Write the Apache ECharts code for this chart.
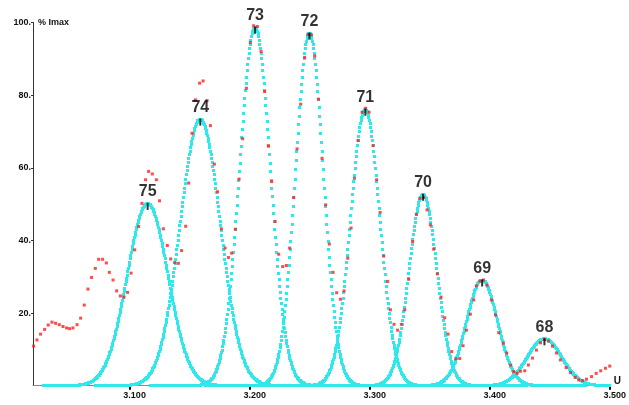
<!DOCTYPE html>
<html lang="en">
  <head>
    <meta charset="UTF-8" />
    <title>Peaks</title>
    <style>
      html, body { margin: 0; padding: 0; background: #fff; }
      #main { width: 629px; height: 405px; }
    </style>
  </head>
  <body>
    <script src="https://cdn.jsdelivr.net/npm/echarts@6.0.0/dist/echarts.min.js"></script>
    <div id="main"></div>
    <script>
      // axis ticks
      const xTicks = [3.1, 3.2, 3.3, 3.4, 3.5]
      const yTicks = [20, 40, 60, 80, 100]

      // fitted peaks (charge state, centre, height in % Imax, sigma in U)
      const charges = ['75', '74', '73', '72', '71', '70', '69', '68']
      const peakCenters = [3.1150, 3.1589, 3.2045, 3.2498, 3.2964, 3.3445, 3.3937, 3.4456]
      const peakHeights = [50.2, 73.4, 98.7, 97.1, 76.1, 52.7, 29.1, 12.9]
      const peakSigmas = [0.0170, 0.0168, 0.0128, 0.0116, 0.0122, 0.0116, 0.0130, 0.0145]

      // measured points
      const measuredU = [
        3.0200, 3.0228, 3.0258, 3.0292, 3.0322, 3.0353, 3.0383, 3.0414, 3.0445, 3.0475,
        3.0500, 3.0528, 3.0562, 3.0592, 3.0622, 3.0653, 3.0683, 3.0714, 3.0742, 3.0775,
        3.0806, 3.0831, 3.0862, 3.0892, 3.0923, 3.0953, 3.0983, 3.1012, 3.1042, 3.1075,
        3.1103, 3.1133, 3.1158, 3.1189, 3.1223, 3.1249, 3.1281, 3.1314, 3.1342, 3.1375,
        3.1406, 3.1433, 3.1467, 3.1492, 3.1520, 3.1548, 3.1583, 3.1612, 3.1645, 3.1673,
        3.1706, 3.1733, 3.1764, 3.1795, 3.1823, 3.1850, 3.1881, 3.1912, 3.1942, 3.1973,
        3.2006, 3.2033, 3.2064, 3.2095, 3.2125, 3.2156, 3.2183, 3.2212, 3.2242, 3.2275,
        3.2306, 3.2333, 3.2367, 3.2395, 3.2425, 3.2458, 3.2486, 3.2514, 3.2542, 3.2573,
        3.2603, 3.2633, 3.2664, 3.2695, 3.2725, 3.2756, 3.2787, 3.2817, 3.2845, 3.2873,
        3.2903, 3.2937, 3.2966, 3.2995, 3.3028, 3.3058, 3.3087, 3.3117, 3.3150, 3.3173,
        3.3203, 3.3233, 3.3264, 3.3292, 3.3325, 3.3358, 3.3389, 3.3417, 3.3450, 3.3478,
        3.3506, 3.3533, 3.3564, 3.3595, 3.3625, 3.3653, 3.3683, 3.3717, 3.3750, 3.3778,
        3.3806, 3.3839, 3.3867, 3.3889, 3.3918, 3.3948, 3.3978, 3.4014, 3.4048, 3.4075,
        3.4112, 3.4142, 3.4175, 3.4200, 3.4228, 3.4256, 3.4292, 3.4322, 3.4356, 3.4389,
        3.4423, 3.4456, 3.4489, 3.4523, 3.4556, 3.4589, 3.4637, 3.4673, 3.4712, 3.4742,
        3.4773, 3.4806, 3.4848, 3.4887, 3.4925, 3.4964, 3.5000
      ]
      const measuredI = [
        10.9, 12.6, 14.2, 15.5, 16.7, 17.5, 17.2, 16.8, 16.3, 15.9,
        15.7, 15.9, 16.8, 18.6, 22.2, 26.6, 29.8, 32.3, 34.8, 34.8,
        33.8, 31.2, 29.1, 26.1, 24.7, 24.4, 25.7, 31.0, 37.4, 43.8,
        50.2, 56.7, 59.0, 58.3, 56.7, 50.9, 43.2, 38.6, 34.9, 33.9,
        33.7, 37.2, 43.9, 55.8, 69.5, 78.7, 83.3, 83.9, 78.5, 71.6,
        61.0, 53.4, 43.2, 37.9, 35.3, 36.5, 43.1, 56.9, 68.0, 81.9,
        94.5, 99.1, 98.9, 92.0, 81.0, 66.1, 56.2, 45.2, 36.2, 32.8,
        33.1, 37.9, 51.8, 65.2, 77.5, 90.4, 96.7, 96.6, 90.8, 78.9,
        62.6, 49.8, 39.0, 31.2, 25.6, 23.8, 26.1, 35.1, 43.4, 57.1,
        67.5, 75.3, 76.4, 75.3, 66.1, 56.7, 47.7, 35.7, 28.7, 20.9,
        16.9, 15.3, 16.9, 20.9, 29.3, 39.7, 47.2, 51.6, 51.8, 48.4,
        44.3, 37.6, 30.8, 24.4, 18.7, 14.2, 9.4, 7.4, 7.5, 11.0,
        15.3, 19.7, 23.6, 27.5, 28.8, 29.1, 27.7, 23.6, 19.5, 14.6,
        11.7, 9.0, 5.7, 3.9, 3.4, 4.0, 4.1, 5.7, 7.6, 9.8,
        11.8, 12.7, 12.3, 10.9, 9.0, 7.1, 5.0, 3.6, 2.3, 1.6,
        1.4, 1.8, 2.5, 3.4, 4.1, 4.8, 5.4
      ]

      const xMin = 3.0195
      const xMax = 3.5
      const font = "'Liberation Sans', Arial, sans-serif"

      const chart = echarts.init(document.getElementById('main'))

      // each fitted peak drawn as a dotted curve, sampled like the original plotter
      function renderPeak(params, api) {
        const c = api.value(0)
        const h = api.value(1)
        const s = api.value(2)
        const half = 0.087
        const step = 0.0005
        const children = []
        for (let u = Math.max(xMin, c - half); u <= Math.min(xMax, c + half); u += step) {
          const v = h * Math.exp(-((u - c) * (u - c)) / (2 * s * s))
          const p = api.coord([u, v])
          children.push({
            type: 'rect',
            shape: { x: Math.round(p[0] - 1.5), y: Math.round(p[1] - 1.5), width: 3, height: 3 },
            style: { fill: '#2ee8ec' }
          })
        }
        return { type: 'group', children }
      }

      chart.setOption({
        animation: false,
        grid: { left: 33, right: 19, top: 22.5, bottom: 19.3, containLabel: false },
        xAxis: {
          type: 'value',
          min: xMin,
          max: xMax,
          name: 'U',
          nameLocation: 'end',
          nameGap: 4,
          nameTextStyle: { fontFamily: font, fontSize: 10, fontWeight: 'bold', color: '#111', verticalAlign: 'bottom', padding: [0, 0, -1, 0] },
          splitLine: { show: false },
          axisLine: { onZero: false, lineStyle: { color: '#888', width: 1 } },
          axisTick: { customValues: xTicks, length: 4, lineStyle: { color: '#000', width: 2 } },
          axisLabel: {
            customValues: xTicks,
            formatter: v => v.toFixed(3),
            fontFamily: font,
            fontSize: 9,
            fontWeight: 'bold',
            color: '#111',
            margin: 5,
            padding: [0, 0, 0, 10]
          }
        },
        yAxis: {
          type: 'value',
          min: 0,
          max: 100,
          name: '% Imax',
          nameLocation: 'end',
          nameGap: 0,
          nameTextStyle: { fontFamily: font, fontSize: 9, fontWeight: 'bold', color: '#111', align: 'left', verticalAlign: 'middle', padding: [0, 0, 0, 5] },
          splitLine: { show: false },
          axisLine: { show: true, lineStyle: { color: '#333', width: 1 } },
          axisTick: { show: true, customValues: yTicks, length: 2, lineStyle: { color: '#333' } },
          axisLabel: {
            customValues: yTicks,
            formatter: v => v + '.',
            fontFamily: font,
            fontSize: 9,
            fontWeight: 'bold',
            color: '#111',
            margin: 2
          }
        },
        series: [
          {
            type: 'custom',
            name: 'fit',
            silent: true,
            z: 2,
            renderItem: renderPeak,
            data: peakCenters.map((c, i) => [c, peakHeights[i], peakSigmas[i]])
          },
          {
            type: 'scatter',
            name: 'measured',
            silent: true,
            z: 4,
            symbol: 'rect',
            symbolSize: 3,
            itemStyle: { color: '#ff1e1e' },
            data: measuredU.map((u, i) => [u, measuredI[i]])
          },
          {
            type: 'scatter',
            name: 'charge',
            silent: true,
            z: 5,
            symbol: 'rect',
            symbolSize: [2, 7],
            symbolOffset: [0, 3],
            itemStyle: { color: '#000' },
            label: {
              show: true,
              position: 'top',
              distance: 3,
              formatter: p => charges[p.dataIndex],
              fontFamily: font,
              fontSize: 16,
              fontWeight: 'bold',
              color: '#000'
            },
            data: peakCenters.map((c, i) => [c, peakHeights[i]])
          }
        ]
      })
    </script>
  </body>
</html>
